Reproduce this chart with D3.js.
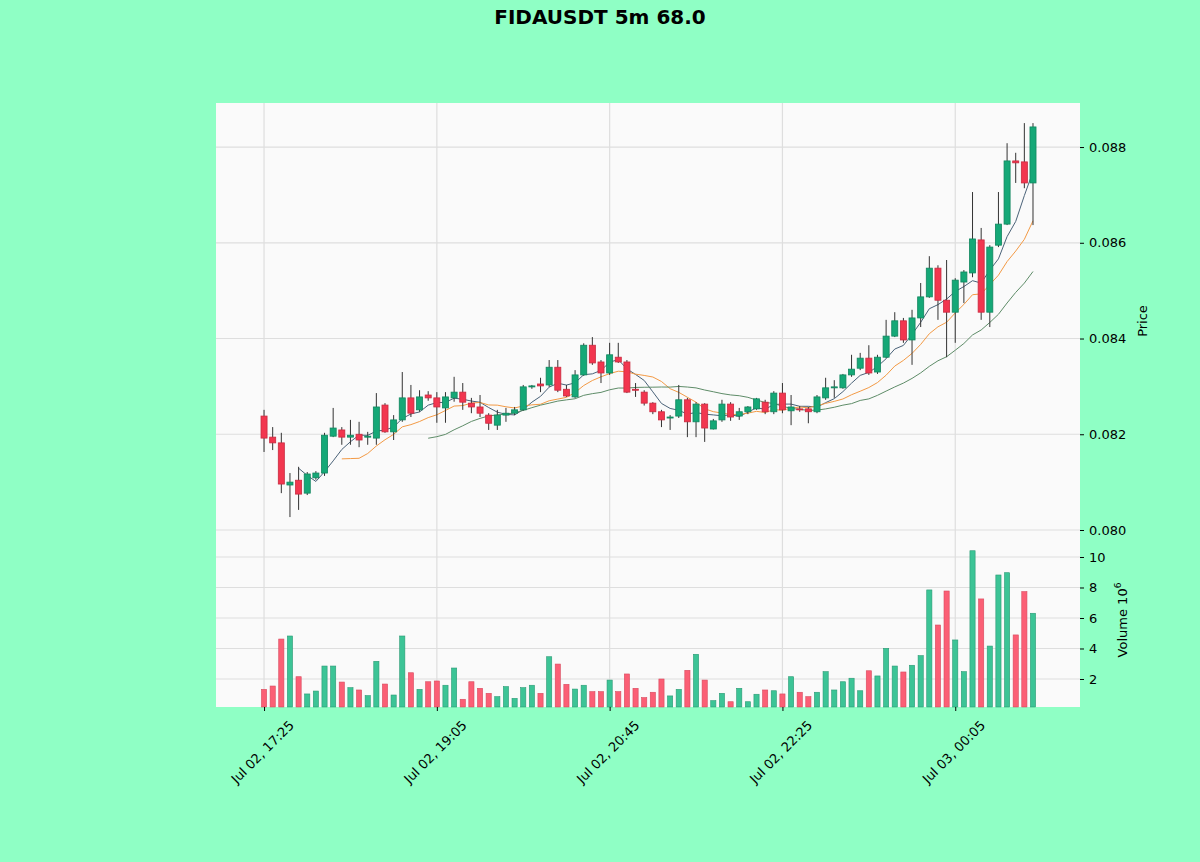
<!DOCTYPE html>
<html>
<head>
<meta charset="utf-8">
<script src="https://cdn.jsdelivr.net/npm/d3@7/dist/d3.min.js"></script>
<style>
  body { margin: 0; background: #8fffc5; }
  svg { display: block; font-family: "DejaVu Sans", sans-serif; }
</style>
</head>
<body>
<div id="main"></div>
<script>
// FIDAUSDT 5m candles, Jul 02 17:25 -> Jul 03 00:50
var opens = [0.08238,0.08194,0.08182,0.08094,0.08104,0.08077,0.08109,0.08119,0.08196,0.08209,
  0.08194,0.08200,0.08194,0.08192,0.08261,0.08205,0.08230,0.08276,0.08251,0.08282,
  0.08276,0.08255,0.08276,0.08288,0.08265,0.08257,0.08240,0.08219,0.08240,0.08244,
  0.08251,0.08299,0.08305,0.08303,0.08340,0.08294,0.08278,0.08324,0.08386,0.08351,
  0.08328,0.08361,0.08351,0.08294,0.08288,0.08265,0.08247,0.08234,0.08238,0.08272,
  0.08226,0.08263,0.08211,0.08230,0.08263,0.08238,0.08247,0.08253,0.08267,0.08247,
  0.08286,0.08249,0.08253,0.08253,0.08247,0.08276,0.08297,0.08297,0.08324,0.08338,
  0.08359,0.08330,0.08361,0.08405,0.08437,0.08397,0.08443,0.08487,0.08547,0.08480,
  0.08455,0.08518,0.08537,0.08606,0.08455,0.08595,0.08639,0.08771,0.08769,0.08725];
var highs = [0.08251,0.08215,0.08203,0.08119,0.08132,0.08121,0.08123,0.08203,0.08255,0.08215,
  0.08230,0.08226,0.08205,0.08286,0.08265,0.08240,0.08330,0.08303,0.08292,0.08290,
  0.08288,0.08288,0.08320,0.08307,0.08276,0.08282,0.08244,0.08251,0.08255,0.08257,
  0.08303,0.08303,0.08318,0.08355,0.08355,0.08303,0.08334,0.08390,0.08403,0.08355,
  0.08391,0.08391,0.08355,0.08307,0.08292,0.08267,0.08251,0.08240,0.08303,0.08276,
  0.08267,0.08265,0.08232,0.08272,0.08267,0.08255,0.08259,0.08276,0.08272,0.08290,
  0.08307,0.08282,0.08259,0.08257,0.08282,0.08318,0.08313,0.08326,0.08366,0.08370,
  0.08386,0.08366,0.08439,0.08455,0.08443,0.08460,0.08516,0.08572,0.08553,0.08564,
  0.08526,0.08543,0.08706,0.08631,0.08595,0.08706,0.08808,0.08788,0.08850,0.08850];
var lows = [0.08163,0.08167,0.08077,0.08027,0.08042,0.08073,0.08105,0.08113,0.08194,0.08178,
  0.08178,0.08173,0.08178,0.08178,0.08203,0.08188,0.08226,0.08236,0.08247,0.08270,
  0.08224,0.08224,0.08268,0.08251,0.08244,0.08236,0.08209,0.08209,0.08226,0.08240,
  0.08249,0.08295,0.08288,0.08299,0.08288,0.08278,0.08276,0.08322,0.08345,0.08307,
  0.08324,0.08349,0.08286,0.08278,0.08260,0.08242,0.08215,0.08209,0.08234,0.08194,
  0.08194,0.08184,0.08210,0.08226,0.08228,0.08230,0.08242,0.08251,0.08242,0.08242,
  0.08244,0.08219,0.08247,0.08223,0.08244,0.08272,0.08276,0.08295,0.08320,0.08334,
  0.08324,0.08326,0.08359,0.08403,0.08391,0.08345,0.08424,0.08485,0.08439,0.08361,
  0.08391,0.08474,0.08528,0.08439,0.08424,0.08591,0.08637,0.08725,0.08714,0.08637];
var closes = [0.08192,0.08182,0.08096,0.08100,0.08075,0.08117,0.08119,0.08198,0.08213,0.08194,
  0.08198,0.08188,0.08196,0.08257,0.08205,0.08230,0.08276,0.08244,0.08278,0.08276,
  0.08257,0.08278,0.08288,0.08267,0.08257,0.08244,0.08223,0.08240,0.08244,0.08251,
  0.08299,0.08301,0.08301,0.08340,0.08292,0.08280,0.08324,0.08386,0.08349,0.08328,
  0.08366,0.08351,0.08288,0.08292,0.08265,0.08247,0.08230,0.08236,0.08272,0.08226,
  0.08263,0.08213,0.08228,0.08263,0.08236,0.08247,0.08257,0.08274,0.08247,0.08286,
  0.08251,0.08257,0.08251,0.08247,0.08278,0.08297,0.08299,0.08324,0.08336,0.08359,
  0.08328,0.08361,0.08405,0.08437,0.08397,0.08443,0.08487,0.08547,0.08480,0.08455,
  0.08522,0.08539,0.08608,0.08455,0.08591,0.08639,0.08771,0.08767,0.08725,0.08842];
// volume in millions
var volumes = [1.32,1.54,4.62,4.82,2.15,1.02,1.21,2.85,2.85,1.80,
  1.43,1.28,0.91,3.16,1.67,0.95,4.82,2.41,1.32,1.82,
  1.87,1.59,2.72,0.67,1.82,1.39,1.06,0.84,1.50,0.73,
  1.43,1.59,1.06,3.46,2.98,1.65,1.34,1.59,1.17,1.17,
  1.93,1.17,2.33,1.39,0.78,1.13,2.00,0.89,1.32,2.57,
  3.62,1.93,0.58,1.06,0.51,1.39,0.51,1.00,1.28,1.23,
  1.02,2.15,1.13,0.84,1.13,2.48,1.28,1.82,2.05,1.23,
  2.54,2.20,4.01,2.85,2.46,2.90,3.53,7.84,5.54,7.77,
  4.56,2.48,10.41,7.25,4.16,8.82,8.97,4.89,7.73,6.31];

var tickIdx = [0, 20, 40, 60, 80];
var tickLabels = ["Jul 02, 17:25", "Jul 02, 19:05", "Jul 02, 20:45", "Jul 02, 22:25", "Jul 03, 00:05"];
var priceTicks = [0.080, 0.082, 0.084, 0.086, 0.088];
var volTicks = [2, 4, 6, 8, 10];
var maWindows = [5, 10, 20];
var maColors = ["#4a6278", "#f39a45", "#5e8c68"];

var upColor = "#15a877", downColor = "#f2364f";
var upEdge = "#10865e", downEdge = "#c92a3f";
var volUp = "#3cc496", volDown = "#fb5f75";

var svgContainer = d3.select("#main").append("svg")
    .attr("width", 1200)
    .attr("height", 862);

svgContainer.append("rect").attr("width", 1200).attr("height", 862).attr("fill", "#8fffc5");

var left = 216, right = 1080, pTop = 103, pBot = 530, vTop = 530, vBot = 707;

var x = d3.scaleLinear().domain([-5.56, 94.44]).range([left, right]);
var y = d3.scaleLinear().domain([0.0800, 0.08892]).range([pBot, pTop]);
var yv = d3.scaleLinear().domain([0.164, 11.77]).range([vBot, vTop]);

var step = x(1) - x(0);

// panel backgrounds
svgContainer.append("rect").attr("x", left).attr("y", pTop).attr("width", right - left)
    .attr("height", pBot - pTop).attr("fill", "#fafafa");
svgContainer.append("rect").attr("x", left).attr("y", vTop).attr("width", right - left)
    .attr("height", vBot - vTop).attr("fill", "#fafafa");

// grid
var grid = svgContainer.append("g").attr("stroke", "#dedede").attr("stroke-width", 1.2);
grid.selectAll(".hp").data(priceTicks).enter().append("line")
    .attr("x1", left).attr("x2", right)
    .attr("y1", d => y(d)).attr("y2", d => y(d));
grid.selectAll(".hv").data(volTicks).enter().append("line")
    .attr("x1", left).attr("x2", right)
    .attr("y1", d => yv(d)).attr("y2", d => yv(d));
grid.selectAll(".vx").data(tickIdx).enter().append("line")
    .attr("x1", d => x(d)).attr("x2", d => x(d))
    .attr("y1", pTop).attr("y2", vBot);

// moving averages
maWindows.forEach(function (w, k) {
  var pts = [];
  for (var i = w - 1; i < closes.length; i++) {
    pts.push([i, d3.mean(closes.slice(i - w + 1, i + 1))]);
  }
  svgContainer.append("path")
      .attr("d", d3.line().x(d => x(d[0])).y(d => y(d[1]))(pts))
      .attr("fill", "none")
      .attr("stroke", maColors[k])
      .attr("stroke-width", 1);
});

// candles
var idx = d3.range(closes.length);
var candles = svgContainer.append("g");
candles.selectAll("line").data(idx).enter().append("line")
    .attr("x1", i => x(i)).attr("x2", i => x(i))
    .attr("y1", i => y(highs[i])).attr("y2", i => y(lows[i]))
    .attr("stroke", "#333").attr("stroke-width", 1);
var bw = step * 0.7;
candles.selectAll("rect").data(idx).enter().append("rect")
    .attr("x", i => x(i) - bw / 2)
    .attr("width", bw)
    .attr("y", i => y(Math.max(opens[i], closes[i])))
    .attr("height", i => Math.max(1, Math.abs(y(opens[i]) - y(closes[i]))))
    .attr("fill", i => closes[i] >= opens[i] ? upColor : downColor)
    .attr("stroke", i => closes[i] >= opens[i] ? upEdge : downEdge)
    .attr("stroke-width", 0.8);

// volume
var vw = step * 0.6;
svgContainer.append("g").selectAll("rect").data(idx).enter().append("rect")
    .attr("x", i => x(i) - vw / 2)
    .attr("width", vw)
    .attr("y", i => yv(volumes[i]))
    .attr("height", i => vBot - yv(volumes[i]))
    .attr("fill", i => closes[i] >= opens[i] ? volUp : volDown)
    .attr("stroke", i => closes[i] >= opens[i] ? "#2a9a74" : "#d84a5e")
    .attr("stroke-width", 0.6);

// axes
var pAxis = svgContainer.append("g").attr("transform", "translate(" + right + ",0)")
    .call(d3.axisRight(y).tickValues(priceTicks).tickFormat(d3.format(".3f")).tickSize(4).tickPadding(5));
var vAxis = svgContainer.append("g").attr("transform", "translate(" + right + ",0)")
    .call(d3.axisRight(yv).tickValues(volTicks).tickSize(4).tickPadding(5));
var xAxis = svgContainer.append("g").attr("transform", "translate(0," + vBot + ")")
    .call(d3.axisBottom(x).tickValues(tickIdx).tickFormat((d, i) => tickLabels[i]).tickSize(4));
[pAxis, vAxis, xAxis].forEach(function (a) {
  a.select(".domain").remove();
  a.selectAll("text").attr("font-family", "DejaVu Sans").attr("font-size", 13).attr("fill", "#000");
  a.selectAll(".tick line").attr("stroke", "#000");
});
// rotated labels centred on the tick, like matplotlib's rotation=45
xAxis.selectAll("text")
    .attr("text-anchor", "middle")
    .attr("y", null)
    .attr("dy", "0.35em")
    .attr("transform", "translate(-2,45) rotate(-45)");

// labels
svgContainer.append("text")
    .attr("transform", "translate(1147,321) rotate(-90)")
    .attr("text-anchor", "middle")
    .attr("font-size", 13)
    .text("Price");
var vl = svgContainer.append("text")
    .attr("transform", "translate(1127,620) rotate(-90)")
    .attr("text-anchor", "middle")
    .attr("font-size", 13);
vl.append("tspan").text("Volume  10");
vl.append("tspan").attr("font-size", 9).attr("dy", -6).text("6");

svgContainer.append("text")
    .attr("x", 600).attr("y", 24)
    .attr("text-anchor", "middle")
    .attr("font-size", 20)
    .attr("font-weight", "bold")
    .text("FIDAUSDT 5m 68.0");
</script>
</body>
</html>
